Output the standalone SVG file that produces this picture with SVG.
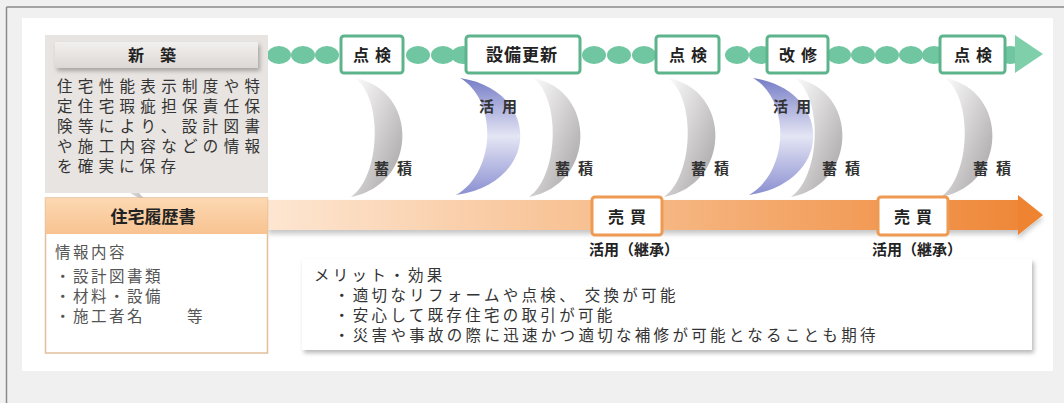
<svg xmlns="http://www.w3.org/2000/svg" width="1064" height="403" viewBox="0 0 1064 403">
<defs>
  <style>
    .jp{font-family:"Noto Sans CJK JP","Noto Sans",sans-serif;}
    .hb{font-weight:bold;fill:#222;}
    .tb{font-size:16px;font-weight:bold;fill:#222;letter-spacing:6px;}
    .lbl{font-size:15px;font-weight:bold;fill:#333;letter-spacing:8px;}
    .body{font-size:15.5px;fill:#333;}
    .info{font-size:15.5px;fill:#555;letter-spacing:2.5px;}
    .merit{font-size:15.5px;fill:#333;letter-spacing:3.3px;}
    .gbox{fill:#fff;stroke:#5db48c;stroke-width:3;}
    .obox{fill:#fff;stroke:#ee9a52;stroke-width:3;}
    .dot{fill:#6fc6a1;}
  </style>
  <filter id="sh" x="-10%" y="-20%" width="130%" height="150%">
    <feDropShadow dx="2" dy="3" stdDeviation="2" flood-color="#000" flood-opacity="0.28"/>
  </filter>
  <filter id="sh2" x="-10%" y="-40%" width="120%" height="200%">
    <feDropShadow dx="0" dy="4" stdDeviation="2.5" flood-color="#000" flood-opacity="0.22"/>
  </filter>
  <linearGradient id="gTitle" x1="0" y1="0" x2="0" y2="1">
    <stop offset="0" stop-color="#f2f0ee"/>
    <stop offset="1" stop-color="#dcd8d5"/>
  </linearGradient>
  <linearGradient id="gHead" x1="0" y1="0" x2="0" y2="1">
    <stop offset="0" stop-color="#fcd8b2"/>
    <stop offset="1" stop-color="#f8c391"/>
  </linearGradient>
  <linearGradient id="gBar" x1="268" y1="0" x2="1043" y2="0" gradientUnits="userSpaceOnUse">
    <stop offset="0" stop-color="#fde6d2"/>
    <stop offset="0.45" stop-color="#f7bd8c"/>
    <stop offset="1" stop-color="#ee8433"/>
  </linearGradient>
  <linearGradient id="gGray" x1="0" y1="0" x2="1" y2="1">
    <stop offset="0" stop-color="#ffffff"/>
    <stop offset="0.45" stop-color="#d6d4d4"/>
    <stop offset="1" stop-color="#a09e9e"/>
  </linearGradient>
  <linearGradient id="gBlue" x1="0" y1="0" x2="0" y2="1">
    <stop offset="0" stop-color="#767dc6"/>
    <stop offset="0.5" stop-color="#e4e5f4"/>
    <stop offset="1" stop-color="#8a8fd1"/>
  </linearGradient>
  <path id="crG" d="M0,78 C64,90 64,184 -4,197 C26,176 28,98 0,78 Z"/>
  <path id="crB" d="M0,78 C80,90 82,182 -4,195 C36,172 38,100 0,78 Z"/>
</defs>

<!-- background and frame -->
<rect x="0" y="0" width="1064" height="403" fill="#f0f0f0"/>
<line x1="6.5" y1="7" x2="1064" y2="7" stroke="#8a8a8a" stroke-width="1.5"/>
<line x1="6.5" y1="7" x2="6.5" y2="403" stroke="#8a8a8a" stroke-width="1.5"/>
<rect x="22" y="18" width="1031" height="353" fill="#ffffff"/>

<!-- connectors: timeline, crescents, bar -->
<g id="connectors">
  <g id="timeline-dots">
    <ellipse class="dot" cx="279" cy="55" rx="12" ry="9"/>
    <ellipse class="dot" cx="303" cy="55" rx="12" ry="9"/>
    <ellipse class="dot" cx="327" cy="55" rx="12" ry="9"/>
    <ellipse class="dot" cx="418" cy="55" rx="12" ry="9"/>
    <ellipse class="dot" cx="443" cy="55" rx="12" ry="9"/>
    <ellipse class="dot" cx="463" cy="55" rx="12" ry="9"/>
    <ellipse class="dot" cx="594" cy="55" rx="12" ry="9"/>
    <ellipse class="dot" cx="619" cy="55" rx="12" ry="9"/>
    <ellipse class="dot" cx="644" cy="55" rx="12" ry="9"/>
    <ellipse class="dot" cx="737" cy="55" rx="12" ry="9"/>
    <ellipse class="dot" cx="761" cy="55" rx="12" ry="9"/>
    <ellipse class="dot" cx="839" cy="55" rx="12" ry="9"/>
    <ellipse class="dot" cx="863" cy="55" rx="12" ry="9"/>
    <ellipse class="dot" cx="887" cy="55" rx="12" ry="9"/>
    <ellipse class="dot" cx="911" cy="55" rx="12" ry="9"/>
    <ellipse class="dot" cx="934" cy="55" rx="12" ry="9"/>
    <ellipse class="dot" cx="1010" cy="55" rx="12" ry="9"/>
    <polygon points="1015,35 1043,54 1015,73" fill="#7fcfab"/>
  </g>
  <g id="crescents">
    <use href="#crG" x="355" fill="url(#gGray)"/>
    <use href="#crG" x="533" fill="url(#gGray)"/>
    <use href="#crG" x="668" fill="url(#gGray)"/>
    <use href="#crG" x="795" fill="url(#gGray)"/>
    <use href="#crG" x="945" fill="url(#gGray)"/>
    <use href="#crB" x="460" fill="url(#gBlue)"/>
    <use href="#crB" x="753" fill="url(#gBlue)"/>
    <path d="M158,175 C128,176 112,192 150,201 C132,194 136,181 158,175 Z" fill="url(#gGray)"/>
  </g>
  <g id="orange-bar" filter="url(#sh2)">
    <rect x="268" y="200" width="752" height="30" fill="url(#gBar)"/>
    <polygon points="1018,195 1043,215 1018,235" fill="#ee8433"/>
  </g>
</g>

<!-- crescent labels -->
<g id="labels" class="jp">
  <text class="lbl" x="397" y="174" text-anchor="middle">蓄積</text>
  <text class="lbl" x="578" y="174" text-anchor="middle">蓄積</text>
  <text class="lbl" x="714" y="174" text-anchor="middle">蓄積</text>
  <text class="lbl" x="845" y="174" text-anchor="middle">蓄積</text>
  <text class="lbl" x="996" y="174" text-anchor="middle">蓄積</text>
  <text class="lbl" x="502" y="112" text-anchor="middle">活用</text>
  <text class="lbl" x="796" y="112" text-anchor="middle">活用</text>
</g>

<!-- 新築 panel -->
<g id="node-shinchiku" class="jp">
  <rect x="45" y="35" width="223" height="158" fill="#e7e4e1"/>
  <rect x="55" y="42" width="203" height="26" fill="url(#gTitle)" filter="url(#sh)"/>
  <text class="hb" x="152" y="61" text-anchor="middle" font-size="16">新　築</text>
  <text class="body" x="57" y="92" textLength="203" lengthAdjust="spacing">住宅性能表示制度や特</text>
  <text class="body" x="57" y="112" textLength="203" lengthAdjust="spacing">定住宅瑕疵担保責任保</text>
  <text class="body" x="57" y="132" textLength="203" lengthAdjust="spacing">険等により、設計図書</text>
  <text class="body" x="57" y="152" textLength="203" lengthAdjust="spacing">や施工内容などの情報</text>
  <text class="body" x="57" y="172" textLength="119" lengthAdjust="spacing">を確実に保存</text>
</g>

<!-- 住宅履歴書 box -->
<g id="node-rireki" class="jp">
  <rect x="45.5" y="198" width="222" height="155" fill="#fff" stroke="#e2bf9b" stroke-width="1.5"/>
  <rect x="45.5" y="198" width="222" height="36" fill="url(#gHead)"/>
  <text class="hb" x="153" y="223" text-anchor="middle" font-size="17">住宅履歴書</text>
  <text class="info" x="55" y="258">情報内容</text>
  <text class="info" x="55" y="282">・設計図書類</text>
  <text class="info" x="55" y="302">・材料・設備</text>
  <text class="info" x="55" y="322">・施工者名　　 等</text>
</g>

<!-- timeline nodes -->
<g id="node-tenken1" class="jp">
  <rect class="gbox" x="341" y="36" width="62" height="37" rx="3"/>
  <text class="tb" x="375" y="61" text-anchor="middle">点検</text>
</g>
<g id="node-setsubi" class="jp">
  <rect class="gbox" x="466" y="36" width="114" height="37" rx="3"/>
  <text class="hb" x="522" y="61" text-anchor="middle" font-size="17" letter-spacing="1">設備更新</text>
</g>
<g id="node-tenken2" class="jp">
  <rect class="gbox" x="656" y="36" width="63" height="37" rx="3"/>
  <text class="tb" x="691" y="61" text-anchor="middle">点検</text>
</g>
<g id="node-kaishu" class="jp">
  <rect class="gbox" x="767" y="36" width="61" height="37" rx="3"/>
  <text class="tb" x="801" y="61" text-anchor="middle">改修</text>
</g>
<g id="node-tenken3" class="jp">
  <rect class="gbox" x="940" y="36" width="65" height="37" rx="3"/>
  <text class="tb" x="976" y="61" text-anchor="middle">点検</text>
</g>

<!-- 売買 nodes -->
<g id="node-baibai1" class="jp">
  <rect class="obox" x="592" y="197" width="70" height="38" rx="3"/>
  <text class="tb" x="630" y="223" text-anchor="middle">売買</text>
  <text class="hb" x="634" y="255" text-anchor="middle" font-size="15" fill="#333">活用（継承）</text>
</g>
<g id="node-baibai2" class="jp">
  <rect class="obox" x="878" y="197" width="70" height="38" rx="3"/>
  <text class="tb" x="916" y="223" text-anchor="middle">売買</text>
  <text class="hb" x="917" y="255" text-anchor="middle" font-size="15" fill="#333">活用（継承）</text>
</g>

<!-- merit box -->
<g id="node-merit" class="jp">
  <rect x="302" y="259" width="730" height="91" fill="#fff" filter="url(#sh)"/>
  <text class="merit" x="314" y="281">メリット・効果</text>
  <text class="merit" x="334" y="301">・適切なリフォームや点検、 交換が可能</text>
  <text class="merit" x="334" y="321">・安心して既存住宅の取引が可能</text>
  <text class="merit" x="334" y="341">・災害や事故の際に迅速かつ適切な補修が可能となることも期待</text>
</g>
</svg>
